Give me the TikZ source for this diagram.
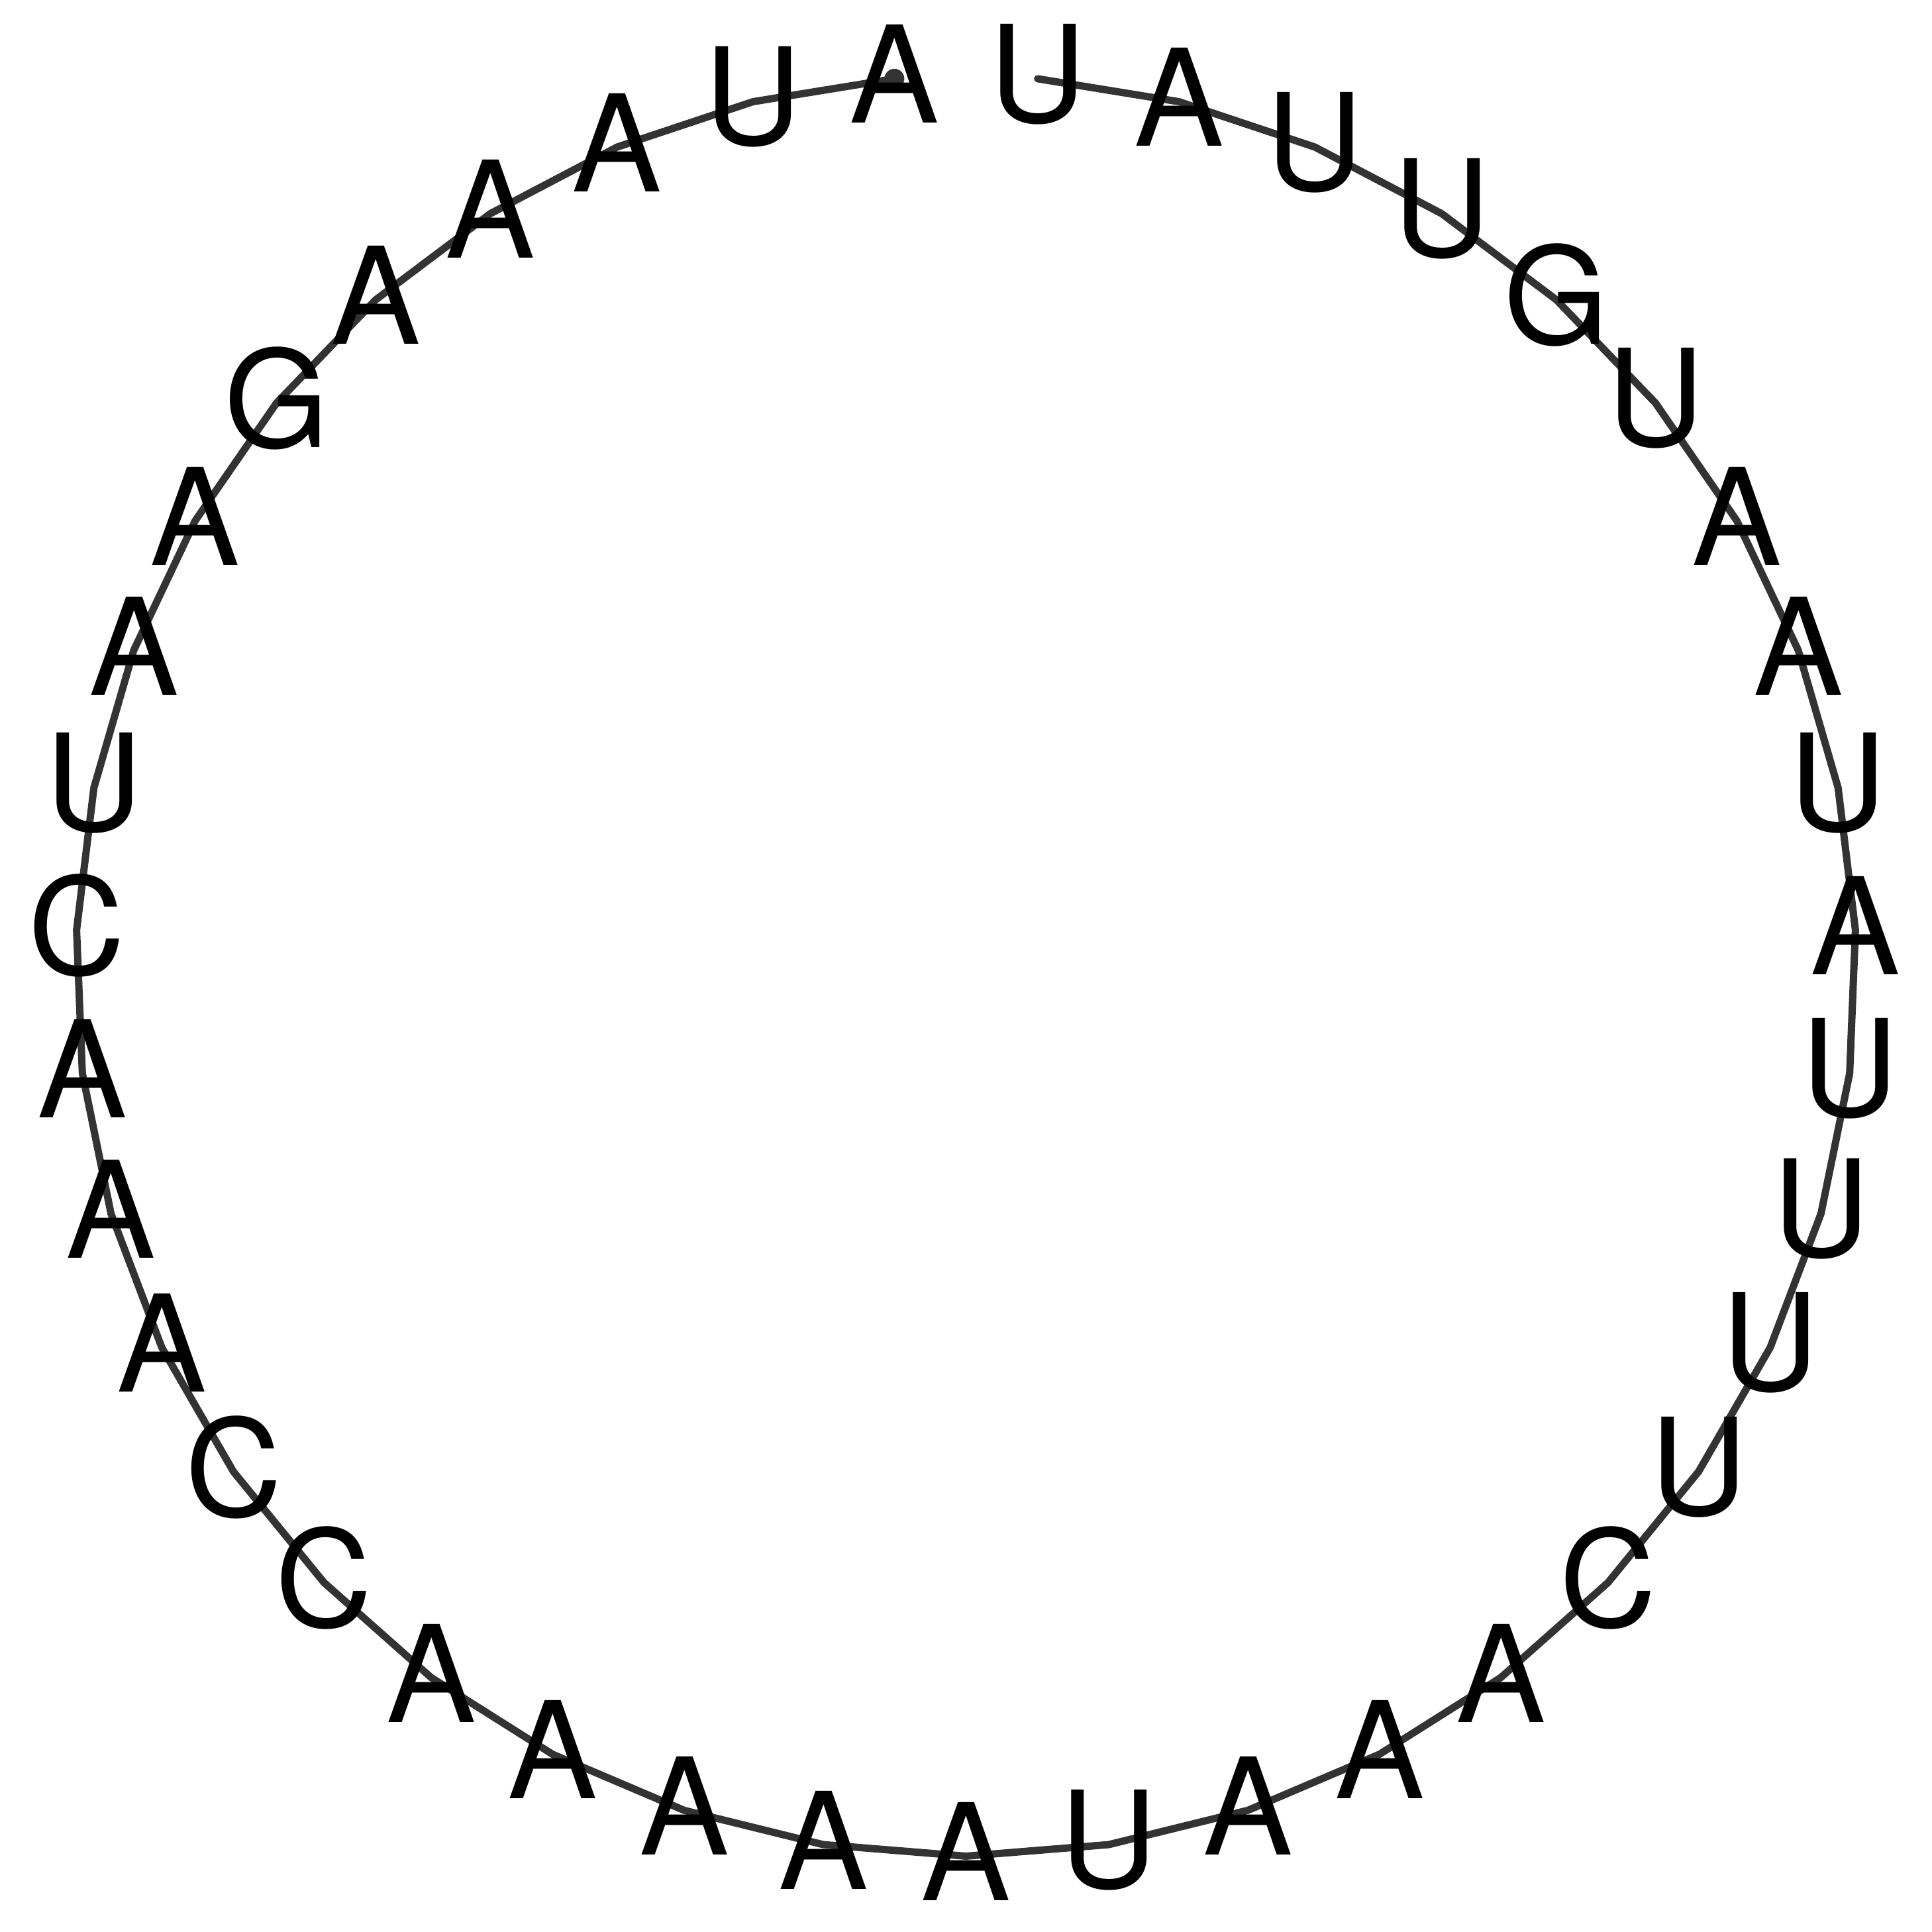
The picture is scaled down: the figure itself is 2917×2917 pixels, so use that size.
\documentclass[tikz,border=0pt]{standalone}
\usepackage{fontspec}
\setmainfont{TeX Gyre Heros}
\begin{document}
\begin{tikzpicture}[x=0.01cm,y=0.01cm]
\tikzset{
  base/.style={font=\fontsize{57.8}{60}\selectfont, inner sep=0pt, text=black},
  backbone/.style={draw=black!80, line width=0.11cm, line cap=round, line join=round},
  startdot/.style={fill=black!80}
}
\useasboundingbox (0,0) rectangle (2917,2917);
\foreach \i in {0,...,38}{
  \coordinate (p\i) at ({1458.5+1344*cos(90+(\i+0.5)*360/39)}, {1458.5+1344*sin(90+(\i+0.5)*360/39)});
}
\draw[backbone] (p0) \foreach \k in {1,...,38}{ -- (p\k)};
\fill[startdot] (p0) circle (15);
\foreach \b [count=\i from 0] in {A,U,A,A,A,G,A,A,U,C,A,A,A,C,C,A,A,A,A,A,U,A,A,A,C,U,U,U,U,A,U,A,A,U,G,U,U,A,U}{
  \node[base] (n\i) at ([yshift=0.07cm]p\i) {\b};
}
\end{tikzpicture}
\end{document}
